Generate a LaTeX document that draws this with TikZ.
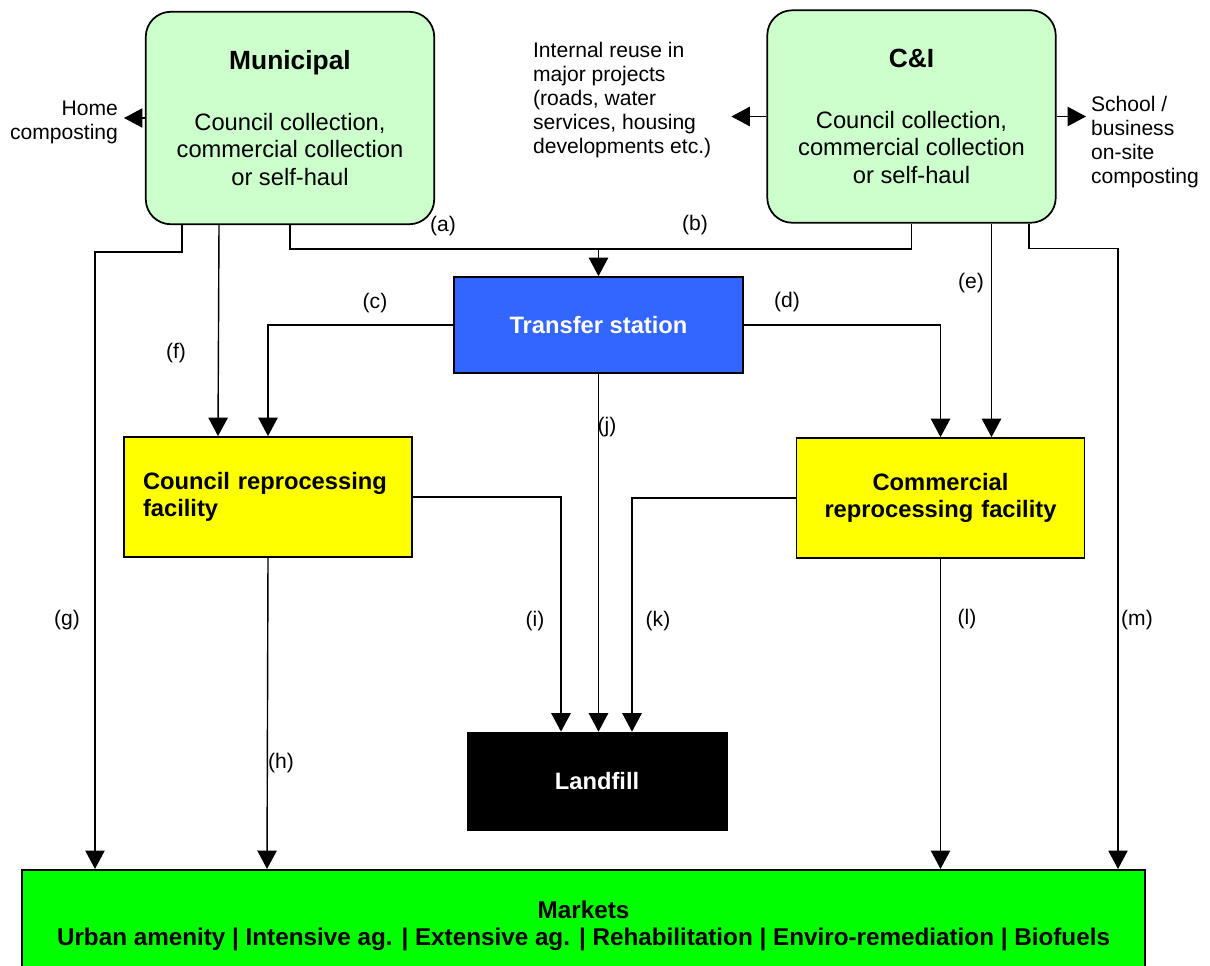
\documentclass[tikz,border=0pt]{standalone}
\usepackage{fontspec}
\setmainfont{Liberation Sans}
\usepackage{tikz}
\usetikzlibrary{arrows.meta}
\usetikzlibrary{calc}
\definecolor{palegreen}{rgb}{0.8,1,0.8}
\definecolor{stationblue}{rgb}{0.2,0.4,1}
\definecolor{facyellow}{rgb}{1,1,0}
\definecolor{marketgreen}{rgb}{0,1,0}
\newcommand{\mainsize}{\fontsize{13.5}{15.6}\selectfont}
\newcommand{\titlesize}{\fontsize{15}{17}\selectfont}
\newcommand{\smallsize}{\fontsize{12}{13.6}\selectfont}
\tikzset{
  source/.style={draw=black,line width=1pt,fill=palegreen,rounded corners=0.5cm,
    align=center,font=\mainsize,minimum width=5.77cm,minimum height=4.25cm},
  facility/.style={draw=black,line width=1pt,fill=facyellow,font=\mainsize\bfseries,
    minimum height=2.4cm,text width=5.0cm,inner xsep=0.38cm},
  flow/.style={line width=0.8pt,-{Triangle[length=10.5pt,width=11pt]}},
  link/.style={line width=0.8pt},
  tag/.style={font=\smallsize,inner sep=1pt},
}

\begin{document}
\begin{tikzpicture}[x=0.02cm,y=-0.02cm]
      \useasboundingbox (0,0) rectangle (1210,965);
      %% sources
      \node[source] (muni) at (290,118) {{\titlesize\bfseries Municipal}\\[19pt]Council collection,\\commercial collection\\or self-haul};
      \node[source] (cni) at (911.5,116.5) {{\titlesize\bfseries C\&I}\\[19pt]Council collection,\\commercial collection\\or self-haul};
      \node[tag,anchor=east,align=right] (home) at (120,122) {Home\\composting};
      \node[tag,anchor=west,align=left] (reuse) at (531,100) {Internal reuse in\\major projects\\(roads, water\\services, housing\\developments etc.)};
      \node[tag,anchor=west,align=left] (school) at (1089,142) {School /\\business\\on-site\\composting};

      %% processing
      \node[draw,line width=1pt,fill=stationblue,text=white,font=\mainsize\bfseries,
        minimum width=5.78cm,minimum height=1.92cm] (transfer) at (598.5,325) {Transfer station};
      \node[facility,align=left] (council) at (268,497) {Council reprocessing\\facility};
      \node[facility,align=center] (commercial) at (940.5,498) {Commercial\\reprocessing facility};
      \node[draw,fill=black,text=white,font=\mainsize\bfseries,
        minimum width=5.2cm,minimum height=1.96cm] (landfill) at (597,781) {Landfill};
      \node[draw,line width=1.2pt,fill=marketgreen,align=center,font=\fontsize{13.8}{15.8}\selectfont\bfseries,
        minimum width=22.46cm,minimum height=2.24cm] (markets) at (583.5,926)
        {Markets\\Urban amenity | Intensive ag. | Extensive ag. | Rehabilitation | Enviro-remediation | Biofuels};

      %% flows
      \draw[flow] (muni.west) -- ($(muni.west -| home.east)+(4,0)$);
      \draw[flow] (cni.west) -- ($(cni.west -| reuse.east)+(18,0)$);
      \draw[flow] (cni.east) -- ($(cni.east -| school.west)+(-3,0)$);
      \coordinate (join) at (598.5,249);
      \draw[link] (muni.south) |- (join);
      \draw[link] (cni.south) |- (join);
      \draw[flow] (join) -- (transfer.north);
      \draw[flow] ($(muni.south)+(-108,0)$) -- ++(0,27) -| ($(markets.north)+(-488.5,0)$);
      \draw[flow] ($(muni.south)+(-71,0)$) -- ($(council.north)+(-50,0)$);
      \draw[flow] (transfer.west) -| (council.north);
      \draw[flow] (transfer.east) -| (commercial.north);
      \draw[flow] ($(cni.south)+(80,0)$) -- ($(commercial.north)+(51,0)$);
      \draw[flow] ($(cni.south)+(117.5,0)$) -- ++(0,25) -| ($(markets.north)+(534.5,0)$);
      \draw[flow] (transfer.south) -- (transfer.south |- landfill.north);
      \draw[flow] (council.east) -| ($(landfill.north)+(-36,0)$);
      \draw[flow] (commercial.west) -| ($(landfill.north)+(35,0)$);
      \draw[flow] (council.south) -- ($(markets.north)+(-316.5,0)$);
      \draw[flow] (commercial.south) -- (commercial.south |- markets.north);

      %% flow letters
      \node[tag] (lbla) at (443,226) {(a)};
      \node[tag] (lblb) at (695,225) {(b)};
      \node[tag] (lblc) at (375,303) {(c)};
      \node[tag] (lbld) at (787,302) {(d)};
      \node[tag] (lble) at (971,283) {(e)};
      \node[tag] (lblf) at (176,353) {(f)};
      \node[tag] (lblg) at (67,620) {(g)};
      \node[tag] (lblh) at (281,763) {(h)};
      \node[tag] (lbli) at (535,621) {(i)};
      \node[tag] (lblj) at (607,427) {(j)};
      \node[tag] (lblk) at (658,621) {(k)};
      \node[tag] (lbll) at (967,619) {(l)};
      \node[tag] (lblm) at (1137,620) {(m)};
\end{tikzpicture}
\end{document}
